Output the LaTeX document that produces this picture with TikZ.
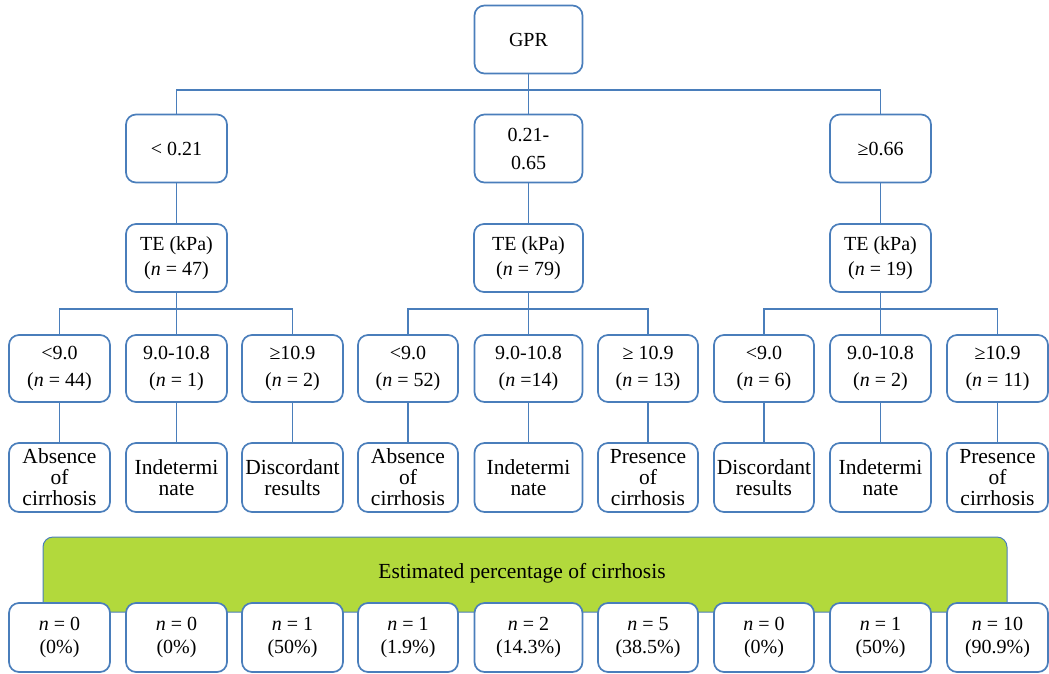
\documentclass[tikz,border=0pt]{standalone}
\usepackage{fontspec}
\setmainfont{Liberation Serif}
\definecolor{lineblue}{RGB}{74,126,187}
\definecolor{bannergreen}{RGB}{178,217,60}
\newcommand{\nn}{\textit{n}}
\begin{document}
\begin{tikzpicture}[x=1pt,y=-1pt,
  box/.style={draw=lineblue, line width=1.7pt, rounded corners=10pt, fill=white,
    inner sep=0pt, align=center, anchor=center, text=black},
  topbox/.style={box, font=\fontsize{20}{28}\selectfont, minimum height=68pt},
  tebox/.style={box, font=\fontsize{20}{25}\selectfont, minimum height=68pt},
  rangebox/.style={box, font=\fontsize{20}{27}\selectfont, minimum height=67pt},
  leafbox/.style={box, font=\fontsize{21.5}{21}\selectfont, minimum height=69pt},
  countbox/.style={box, font=\fontsize{20}{23}\selectfont, minimum height=69pt},
  conn/.style={draw=lineblue, line width=1.7pt},
  banner/.style={draw=lineblue, line width=1pt, fill=bannergreen, rounded corners=10pt,
    minimum width=964pt, minimum height=75pt, inner sep=0pt, anchor=center}
]
\useasboundingbox (0,0) rectangle (1049,673);

% level 1 and 2
\node[topbox, minimum width=108pt] (gpr) at (528.5,39.5) {GPR};
\node[topbox, minimum width=101pt] (g1) at (176.5,148.5) {< 0.21};
\node[topbox, minimum width=108pt] (g2) at (528.5,148.5) {0.21-\\0.65};
\node[topbox, minimum width=101pt] (g3) at (880.5,148.5) {≥0.66};

% TE
\node[tebox, minimum width=101pt] (te1) at (176.5,258) {TE (kPa)\\(\nn{} = 47)};
\node[tebox, minimum width=109pt] (te2) at (528.5,258) {TE (kPa)\\(\nn{} = 79)};
\node[tebox, minimum width=101pt] (te3) at (880.5,258) {TE (kPa)\\(\nn{} = 19)};

% ranges
\node[rangebox, minimum width=101pt] (r1) at (59.5,368.5) {<9.0\\(\nn{} = 44)};
\node[rangebox, minimum width=101pt] (r2) at (176.5,368.5) {9.0-10.8\\(\nn{} = 1)};
\node[rangebox, minimum width=101pt] (r3) at (292.5,368.5) {≥10.9\\(\nn{} = 2)};
\node[rangebox, minimum width=100pt] (r4) at (408,368.5) {<9.0\\(\nn{} = 52)};
\node[rangebox, minimum width=108pt] (r5) at (528.5,368.5) {9.0-10.8\\(\nn{} =14)};
\node[rangebox, minimum width=100pt] (r6) at (648,368.5) {≥ 10.9\\(\nn{} = 13)};
\node[rangebox, minimum width=100pt] (r7) at (764,368.5) {<9.0\\(\nn{} = 6)};
\node[rangebox, minimum width=101pt] (r8) at (880.5,368.5) {9.0-10.8\\(\nn{} = 2)};
\node[rangebox, minimum width=101pt] (r9) at (997.5,368.5) {≥10.9\\(\nn{} = 11)};

% leaves
\node[leafbox, minimum width=101pt] (l1) at (59.5,477.5) {Absence\\of\\cirrhosis};
\node[leafbox, minimum width=101pt] (l2) at (176.5,477.5) {Indetermi\\nate};
\node[leafbox, minimum width=101pt] (l3) at (292.5,477.5) {Discordant\\results};
\node[leafbox, minimum width=100pt] (l4) at (408,477.5) {Absence\\of\\cirrhosis};
\node[leafbox, minimum width=108pt] (l5) at (528.5,477.5) {Indetermi\\nate};
\node[leafbox, minimum width=100pt] (l6) at (648,477.5) {Presence\\of\\cirrhosis};
\node[leafbox, minimum width=100pt] (l7) at (764,477.5) {Discordant\\results};
\node[leafbox, minimum width=101pt] (l8) at (880.5,477.5) {Indetermi\\nate};
\node[leafbox, minimum width=101pt] (l9) at (997.5,477.5) {Presence\\of\\cirrhosis};

% banner
\node[banner] (ban) at (525,574.5) {};
\node[font=\fontsize{21.5}{24}\selectfont, text=black, anchor=center] (bantext) at (522,573) {Estimated percentage of cirrhosis};

% counts
\node[countbox, minimum width=101pt] (c1) at (59.5,637.5) {\nn{} = 0\\(0\%)};
\node[countbox, minimum width=101pt] (c2) at (176.5,637.5) {\nn{} = 0\\(0\%)};
\node[countbox, minimum width=101pt] (c3) at (292.5,637.5) {\nn{} = 1\\(50\%)};
\node[countbox, minimum width=100pt] (c4) at (408,637.5) {\nn{} = 1\\(1.9\%)};
\node[countbox, minimum width=108pt] (c5) at (528.5,637.5) {\nn{} = 2\\(14.3\%)};
\node[countbox, minimum width=100pt] (c6) at (648,637.5) {\nn{} = 5\\(38.5\%)};
\node[countbox, minimum width=100pt] (c7) at (764,637.5) {\nn{} = 0\\(0\%)};
\node[countbox, minimum width=101pt] (c8) at (880.5,637.5) {\nn{} = 1\\(50\%)};
\node[countbox, minimum width=101pt] (c9) at (997.5,637.5) {\nn{} = 10\\(90.9\%)};

% connectors
\coordinate (bus1) at (0,90);
\coordinate (bus2) at (0,309);
\draw[conn] (gpr.south) -- (g2.north);
\draw[conn] (g1.north) |- (g3.north |- bus1) -- (g3.north);
\draw[conn] (g1) -- (te1);
\draw[conn] (g2) -- (te2);
\draw[conn] (g3) -- (te3);

\draw[conn] (te1.south) -- (r2.north);
\draw[conn] (r1.north) |- (r3.north |- bus2) -- (r3.north);
\draw[conn] (te2.south) -- (r5.north);
\draw[conn] (r4.north) |- (r6.north |- bus2) -- (r6.north);
\draw[conn] (te3.south) -- (r8.north);
\draw[conn] (r7.north) |- (r9.north |- bus2) -- (r9.north);

\foreach \i in {1,...,9} {\draw[conn] (r\i) -- (l\i);}
\end{tikzpicture}
\end{document}
